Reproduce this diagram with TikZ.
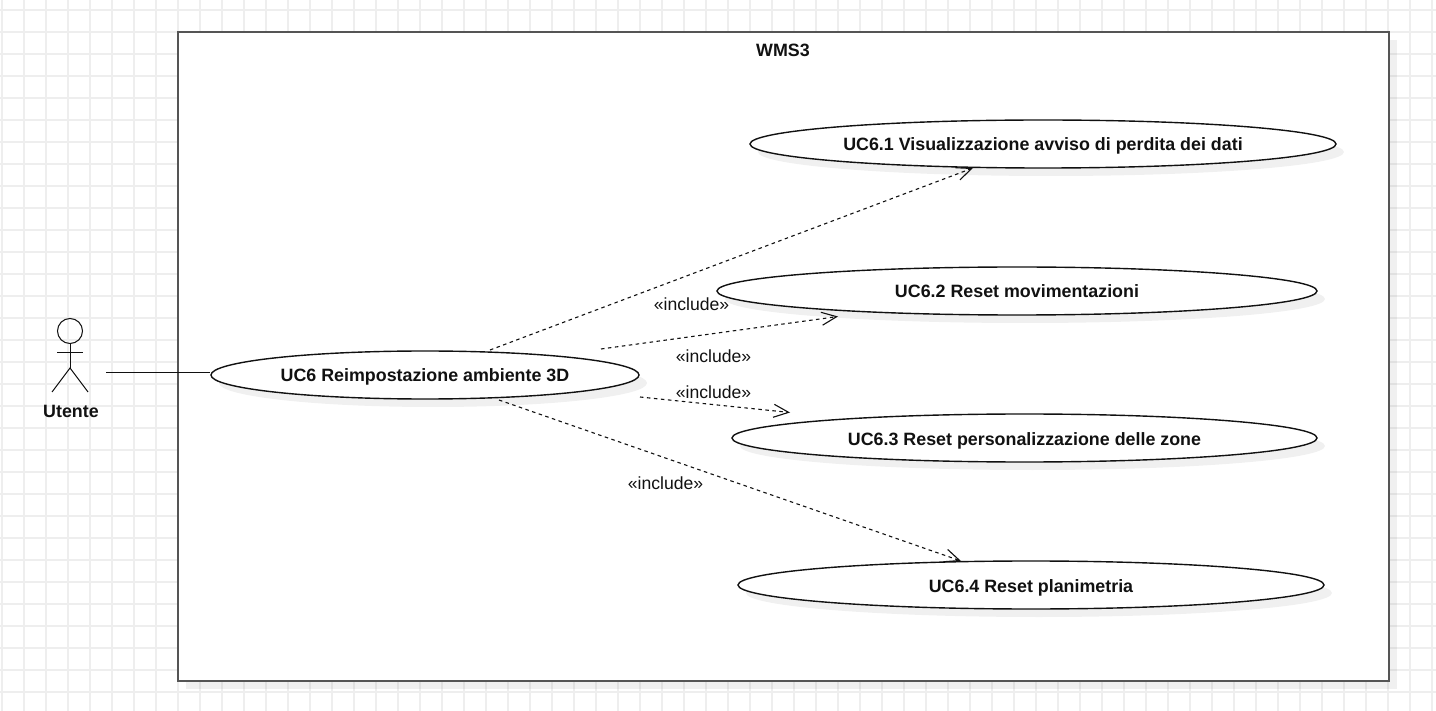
\documentclass[tikz,border=0pt]{standalone}
\usepackage{fontspec}
\setmainfont{Liberation Sans}
\usetikzlibrary{shapes.geometric,arrows.meta,shadows}
\definecolor{gridc}{HTML}{EEEEEE}
\definecolor{boxc}{HTML}{555555}
\definecolor{inkc}{HTML}{111111}
\tikzset{
  x=1pt,y=-1pt,
  gridline/.style={gridc,line width=1.2pt},
  sysbox/.style={draw=boxc,line width=2pt,fill=white,rectangle,inner sep=0pt,
    drop shadow={shadow xshift=8pt,shadow yshift=-8pt,fill=black,opacity=.06}},
  usecase/.style={draw=inkc,line width=1.4pt,fill=white,ellipse,inner sep=0pt,
    text height=14pt,text depth=0pt,
    font=\fontsize{17.85}{20}\selectfont\bfseries,text=inkc,
    drop shadow={shadow xshift=8pt,shadow yshift=-8pt,fill=black,opacity=.06}},
  lbl/.style={font=\fontsize{17.6}{20}\selectfont,text=inkc,inner sep=0pt},
  blbl/.style={lbl,font=\fontsize{17.85}{20}\selectfont\bfseries},
  assoc/.style={draw=inkc,line width=1.1pt},
  incl/.style={draw=inkc,line width=1.1pt,dash pattern=on 3.5pt off 3.5pt,
    -{Straight Barb[length=15pt,width=13pt,line width=1.1pt]}},
  stick/.style={draw=inkc,line width=1pt},
}
\begin{document}
\begin{tikzpicture}
\useasboundingbox (0,0) rectangle (1436,711);
\fill[white] (0,0) rectangle (1436,711);
\foreach \k in {0,...,65} {\draw[gridline] ({2+22*\k},0) -- ({2+22*\k},711);}
\foreach \k in {0,...,32} {\draw[gridline] (0,{10+22*\k}) -- (1436,{10+22*\k});}

\node[sysbox,minimum width=1211pt,minimum height=649pt] (sys) at (783.5,356.5) {};
\node[blbl] (sysname) at (783,50.5) {WMS3};

\node[usecase,minimum width=428pt,minimum height=48pt] (uc6) at (425,375) {UC6 Reimpostazione ambiente 3D};
\node[usecase,minimum width=586pt,minimum height=48pt] (uc61) at (1043,144) {UC6.1 Visualizzazione avviso di perdita dei dati};
\node[usecase,minimum width=600pt,minimum height=48pt] (uc62) at (1017,291) {UC6.2 Reset movimentazioni};
\node[usecase,minimum width=585pt,minimum height=48pt] (uc63) at (1024.5,438) {UC6.3 Reset personalizzazione delle zone};
\node[usecase,minimum width=586pt,minimum height=48pt] (uc64) at (1031,585) {UC6.4 Reset planimetria};

% actor
\node[draw=inkc,line width=1pt,circle,minimum size=25pt,inner sep=0pt] (head) at (70,331) {};
\coordinate (hip) at (70,368);
\coordinate (armL) at (57,353);
\coordinate (armR) at (83,353);
\coordinate (legL) at (52,392);
\coordinate (legR) at (88,392);
\draw[stick] (head.south) -- (hip);
\draw[stick] (armL) -- (armR);
\draw[stick] (legL) -- (hip) -- (legR);
\node[blbl] (actor) at (71,411.5) {Utente};

\coordinate (actorEnd) at (106,372.5);
\coordinate (ucW) at (uc6.west |- actorEnd);
\draw[assoc] (actorEnd) -- (ucW);

\coordinate (s1) at (490,350);
\coordinate (e1) at (973,168);
\coordinate (s2) at (601,349);
\coordinate (e2) at (838,316.5);
\coordinate (s3) at (640,397);
\coordinate (e3) at (790,412.5);
\coordinate (s4) at (499,400);
\coordinate (e4) at (961,561);
\draw[incl] (s1) -- (e1);
\draw[incl] (s2) -- (e2);
\draw[incl] (s3) -- (e3);
\draw[incl] (s4) -- (e4);

\node[lbl] (l1) at (691.5,304.5) {«include»};
\node[lbl] (l2) at (713.5,356.5) {«include»};
\node[lbl] (l3) at (713.5,392) {«include»};
\node[lbl] (l4) at (665.5,483.5) {«include»};
\end{tikzpicture}
\end{document}
